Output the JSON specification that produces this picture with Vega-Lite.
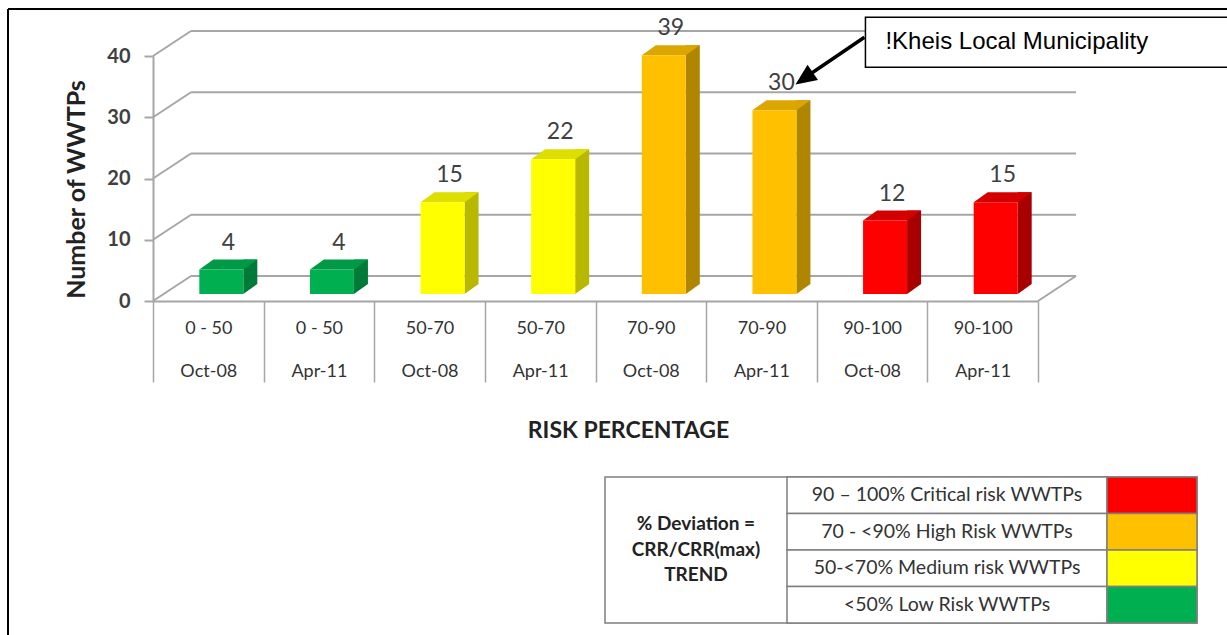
{
  "$schema": "https://vega.github.io/schema/vega-lite/v6.json",
  "width": 1219,
  "height": 626,
  "autosize": {"type": "none"},
  "padding": {"left": 8, "top": 9, "right": 0, "bottom": 0},
  "background": "white",
  "config": {
    "view": {"stroke": "#000000", "strokeWidth": 2, "strokeDash": [1219, 1845, 626, 0]},
    "font": "Lato"
  },
  "datasets": {
    "bars": [
      {"cat": "0 - 50|Oct-08", "risk": "Low", "n": 4},
      {"cat": "0 - 50|Apr-11", "risk": "Low", "n": 4},
      {"cat": "50-70|Oct-08", "risk": "Medium", "n": 15},
      {"cat": "50-70|Apr-11", "risk": "Medium", "n": 22},
      {"cat": "70-90|Oct-08", "risk": "High", "n": 39},
      {"cat": "70-90|Apr-11", "risk": "High", "n": 30},
      {"cat": "90-100|Oct-08", "risk": "Critical", "n": 12},
      {"cat": "90-100|Apr-11", "risk": "Critical", "n": 15}
    ],
    "grid": [{"n": 0}, {"n": 10}, {"n": 20}, {"n": 30}, {"n": 40}],
    "note": [{"cat": "70-90|Apr-11", "n": 30, "note": "!Kheis Local Municipality"}],
    "legend": [
      {"risk": "Critical", "label": "90 – 100% Critical risk WWTPs"},
      {"risk": "High", "label": "70 - <90% High Risk WWTPs"},
      {"risk": "Medium", "label": "50-<70% Medium risk WWTPs"},
      {"risk": "Low", "label": "<50% Low Risk WWTPs"}
    ]
  },
  "resolve": {"scale": {"y": "independent", "fill": "independent"}, "axis": {"y": "independent"}},
  "layer": [
    {
      "encoding": {
        "x": {
          "field": "cat", "type": "nominal", "sort": null,
          "scale": {
            "domain": ["0 - 50|Oct-08", "0 - 50|Apr-11", "50-70|Oct-08", "50-70|Apr-11", "70-90|Oct-08", "70-90|Apr-11", "90-100|Oct-08", "90-100|Apr-11"],
            "range": [145, 1030], "paddingInner": 0, "paddingOuter": 0
          },
          "axis": {
            "orient": "bottom", "offset": -334,
            "domainColor": "#A6A6A6", "domainWidth": 2,
            "tickColor": "#A6A6A6", "tickWidth": 1.5, "tickSize": 81, "tickBand": "extent",
            "labelExpr": "split(datum.label, '|')", "labelLineHeight": 43, "labelBaseline": "middle",
            "labelPadding": -53.5, "labelFontSize": 18, "labelColor": "#333333", "labelAngle": 0, "labelFont": "Lato",
            "title": "RISK PERCENTAGE", "titleFontSize": 23, "titleFontWeight": "bold", "titleColor": "#222222", "titleFont": "Lato",
            "titleX": 620, "titleY": 129, "titleAlign": "center", "titleBaseline": "middle"
          }
        },
        "y": {
          "field": "n", "type": "quantitative",
          "scale": {"domain": [0, 40], "range": [292, 47], "nice": false},
          "axis": {
            "orient": "left", "offset": -145, "values": [0, 10, 20, 30, 40], "grid": false,
            "domainColor": "#A6A6A6", "domainWidth": 2,
            "tickColor": "#A6A6A6", "tickWidth": 2, "tickSize": 9,
            "labelFont": "Lato", "labelFontSize": 20, "labelFontWeight": "bold", "labelColor": "#404040", "labelPadding": 14,
            "title": "Number of WWTPs", "titleFont": "Lato", "titleFontSize": 25, "titleFontWeight": "bold", "titleColor": "#222222",
            "titleX": -77, "titleY": 180, "titleAngle": -90, "titleAlign": "center", "titleBaseline": "middle"
          }
        }
      },
      "resolve": {"scale": {"fill": "independent"}},
      "layer": [
        {
          "data": {"name": "grid"},
          "mark": {"type": "rule", "color": "#A6A6A6", "strokeWidth": 2, "xOffset": 38, "x2Offset": 38, "yOffset": -25},
          "encoding": {
            "x": {"datum": "0 - 50|Oct-08", "bandPosition": 0},
            "x2": {"datum": "90-100|Apr-11", "bandPosition": 1}
          }
        },
        {
          "data": {"name": "grid"},
          "mark": {"type": "rule", "color": "#A6A6A6", "strokeWidth": 2, "x2Offset": 38, "y2Offset": -25},
          "encoding": {
            "x": {"datum": "0 - 50|Oct-08", "bandPosition": 0},
            "x2": {"datum": "0 - 50|Oct-08", "bandPosition": 0},
            "y2": {"field": "n"}
          }
        },
        {
          "data": {"name": "grid"},
          "transform": [{"filter": "datum.n == 0"}],
          "mark": {"type": "rule", "color": "#A6A6A6", "strokeWidth": 2, "x2Offset": 38, "y2Offset": -25},
          "encoding": {
            "x": {"datum": "90-100|Apr-11", "bandPosition": 1},
            "x2": {"datum": "90-100|Apr-11", "bandPosition": 1},
            "y2": {"field": "n"}
          }
        },
        {
          "data": {"name": "bars"},
          "mark": {"type": "bar", "width": 14, "xOffset": 42, "yOffset": -17, "y2Offset": -17},
          "encoding": {
            "y2": {"datum": 0},
            "fill": {"field": "risk", "type": "nominal", "legend": null,
              "scale": {"domain": ["Critical", "High", "Medium", "Low"], "range": ["#A80000", "#B08600", "#B8B800", "#007A38"]}}
          }
        },
        {
          "data": {"name": "bars"},
          "mark": {"type": "point", "shape": "M35,-17L35,-7L49,-17Z", "size": 4, "filled": true, "opacity": 1, "strokeWidth": 0},
          "encoding": {
            "y": {"datum": 0},
            "fill": {"field": "risk", "type": "nominal", "legend": null,
              "scale": {"domain": ["Critical", "High", "Medium", "Low"], "range": ["#A80000", "#B08600", "#B8B800", "#007A38"]}}
          }
        },
        {
          "data": {"name": "bars"},
          "mark": {"type": "point", "shape": "M-9,-7L35,-7L49,-17L5,-17Z", "size": 4, "filled": true, "opacity": 1, "strokeWidth": 0},
          "encoding": {
            "fill": {"field": "risk", "type": "nominal", "legend": null,
              "scale": {"domain": ["Critical", "High", "Medium", "Low"], "range": ["#D40000", "#DCA600", "#DEDE00", "#009A46"]}}
          }
        },
        {
          "data": {"name": "bars"},
          "mark": {"type": "bar", "width": 44, "xOffset": 13, "yOffset": -7, "y2Offset": -7},
          "encoding": {
            "y2": {"datum": 0},
            "fill": {"field": "risk", "type": "nominal", "legend": null,
              "scale": {"domain": ["Critical", "High", "Medium", "Low"], "range": ["#FF0000", "#FFC000", "#FFFF00", "#00B050"]}}
          }
        },
        {
          "data": {"name": "bars"},
          "mark": {"type": "text", "dx": 20, "dy": -34, "baseline": "middle", "align": "center", "fontSize": 23, "color": "#404040", "font": "Lato"},
          "encoding": {"text": {"field": "n", "type": "quantitative"}}
        },
        {
          "data": {"name": "note"},
          "mark": {"type": "point", "shape": "M104,-100H540V-50H104Z", "size": 4, "filled": true, "opacity": 1, "fill": "#FFFFFF", "stroke": "#000000", "strokeWidth": 1.5}
        },
        {
          "data": {"name": "note"},
          "mark": {"type": "text", "dx": 124, "dy": -75, "align": "left", "baseline": "middle", "fontSize": 24, "font": "Liberation Sans", "color": "#000000"},
          "encoding": {"text": {"field": "note", "type": "nominal"}}
        },
        {
          "data": {"name": "note"},
          "mark": {"type": "point", "shape": "M103,-80L50,-44M37.6,-35.2L53.6,-38.4L46.2,-49.2Z", "size": 4, "filled": true, "opacity": 1, "fill": "#000000", "stroke": "#000000", "strokeWidth": 3.5, "strokeJoin": "miter"}
        }
      ]
    },
    {
      "data": {"name": "legend"},
      "encoding": {
        "y": {"field": "risk", "type": "nominal", "sort": null,
          "scale": {"domain": ["Critical", "High", "Medium", "Low"], "range": [468, 614], "paddingInner": 0, "paddingOuter": 0},
          "axis": null},
        "x": {"datum": "0 - 50|Oct-08", "bandPosition": 0},
        "x2": {"datum": "0 - 50|Oct-08", "bandPosition": 0}
      },
      "layer": [
        {
          "transform": [{"filter": "datum.risk == 'Critical'"}],
          "mark": {"type": "rect", "fill": "#FFFFFF", "stroke": "#7F7F7F", "strokeWidth": 1.5, "xOffset": 452, "x2Offset": 1044},
          "encoding": {
            "y": {"datum": "Critical", "bandPosition": 0},
            "y2": {"datum": "Low", "bandPosition": 1}
          }
        },
        {
          "mark": {"type": "rect", "fill": "#FFFFFF", "stroke": "#7F7F7F", "strokeWidth": 1.5, "xOffset": 634, "x2Offset": 954}
        },
        {
          "mark": {"type": "rect", "stroke": "#7F7F7F", "strokeWidth": 1.5, "xOffset": 954, "x2Offset": 1044},
          "encoding": {
            "fill": {"field": "risk", "type": "nominal", "legend": null,
              "scale": {"domain": ["Critical", "High", "Medium", "Low"], "range": ["#FF0000", "#FFC000", "#FFFF00", "#00B050"]}}
          }
        },
        {
          "mark": {"type": "text", "align": "center", "baseline": "middle", "xOffset": 794, "fontSize": 19.5, "font": "Lato", "color": "#333333"},
          "encoding": {"text": {"field": "label", "type": "nominal"}, "x2": null}
        },
        {
          "transform": [{"filter": "datum.risk == 'Critical'"}],
          "mark": {"type": "text", "text": ["% Deviation =", "CRR/CRR(max)", "TREND"], "lineHeight": 25.5, "xOffset": 543, "dy": -26, "fontSize": 19, "fontWeight": "bold", "font": "Lato", "color": "#222222", "align": "center", "baseline": "middle"},
          "encoding": {"y": {"datum": "Medium", "bandPosition": 0}, "x2": null}
        }
      ]
    }
  ]
}
